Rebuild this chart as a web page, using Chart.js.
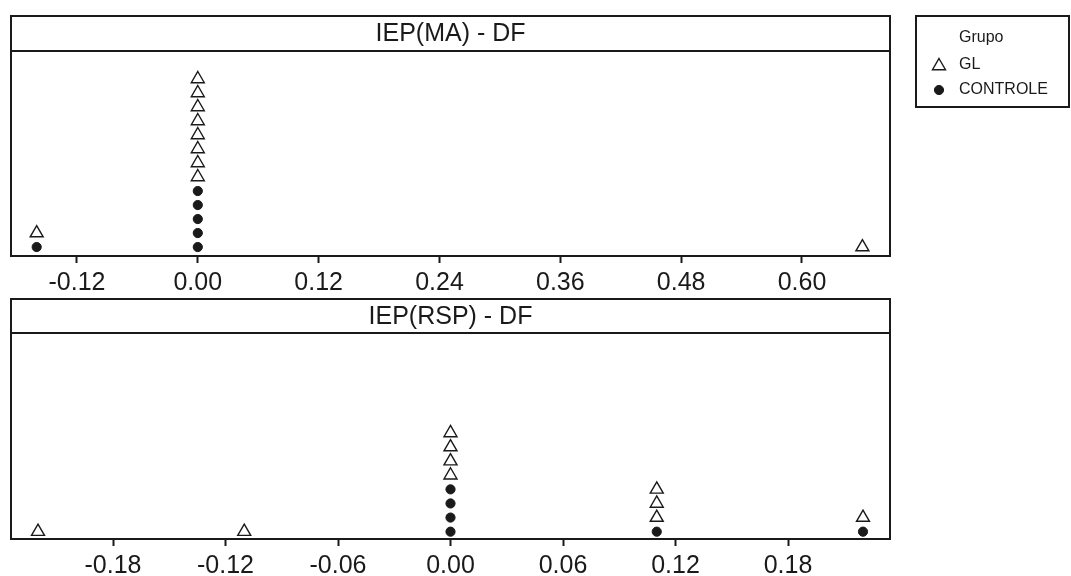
<!DOCTYPE html>
<html>
<head>
<meta charset="utf-8">
<script src="https://cdn.jsdelivr.net/npm/chart.js@4.4.1/dist/chart.umd.min.js"></script>
<style>
  body { margin: 0; background: #fff; }
  #wrap { position: relative; width: 1071px; height: 576px; overflow: hidden; }
  canvas { position: absolute; left: 0; }
</style>
</head>
<body>
<div id="wrap">
  <canvas id="topChart" width="1071" height="300" style="top:0"></canvas>
  <canvas id="bottomChart" width="1071" height="286" style="top:290px"></canvas>
</div>
<script>
const groups = ['GL', 'CONTROLE'];
const legendTitle = 'Grupo';

const maTitle = 'IEP(MA) - DF';
const maTicks = [-0.12, 0.00, 0.12, 0.24, 0.36, 0.48, 0.60];
const maGL = [-0.16, 0, 0, 0, 0, 0, 0, 0, 0, 0.66];
const maControle = [-0.16, 0, 0, 0, 0, 0];

const rspTitle = 'IEP(RSP) - DF';
const rspTicks = [-0.18, -0.12, -0.06, 0.00, 0.06, 0.12, 0.18];
const rspGL = [-0.22, -0.11, 0, 0, 0, 0, 0.11, 0.11, 0.11, 0.22];
const rspControle = [0, 0, 0, 0, 0.11, 0.22];

const FONT = '"Liberation Sans", Arial, sans-serif';
const INK = '#1a1a1a';

const glStyle = { pointStyle: 'triangle', radius: 7.5, borderWidth: 1.4, backgroundColor: '#fff', borderColor: INK };
const ctlStyle = { pointStyle: 'circle', radius: 4.6, borderWidth: 1, backgroundColor: INK, borderColor: INK };

// dotplot stacking: CONTROLE at the bottom, GL piled above it
function stackDots(controle, gl) {
  const count = {};
  const place = v => {
    const k = v.toFixed(3);
    count[k] = (count[k] || 0) + 1;
    return { x: v, y: count[k] };
  };
  const c = controle.map(place);
  const g = gl.map(place);
  return { gl: g, controle: c };
}

const panelFrame = {
  id: 'panelFrame',
  afterDraw(chart, args, opts) {
    const { ctx, chartArea: a } = chart;
    ctx.save();
    ctx.strokeStyle = INK;
    ctx.lineWidth = 2;
    ctx.strokeRect(a.left, a.top - opts.strip, a.right - a.left, a.bottom - a.top + opts.strip);
    ctx.beginPath();
    ctx.moveTo(a.left, a.top);
    ctx.lineTo(a.right, a.top);
    ctx.stroke();
    ctx.fillStyle = INK;
    ctx.font = '25px ' + FONT;
    ctx.textAlign = 'center';
    ctx.textBaseline = 'middle';
    ctx.fillText(opts.title, (a.left + a.right) / 2, a.top - opts.strip / 2 + 1);
    ctx.restore();
  }
};

const groupLegend = {
  id: 'groupLegend',
  afterDraw(chart, args, opts) {
    if (!opts.show) return;
    const ctx = chart.ctx;
    ctx.save();
    ctx.strokeStyle = INK;
    ctx.lineWidth = 2;
    ctx.strokeRect(916, 16, 153, 91);
    ctx.fillStyle = INK;
    ctx.font = '16px ' + FONT;
    ctx.textAlign = 'left';
    ctx.textBaseline = 'middle';
    ctx.fillText(legendTitle, 959, 38);
    const rows = [[groups[0], glStyle, 65], [groups[1], ctlStyle, 90]];
    rows.forEach(([label, st, y]) => {
      ctx.fillStyle = st.backgroundColor;
      ctx.strokeStyle = st.borderColor;
      ctx.lineWidth = st.borderWidth;
      Chart.helpers.drawPoint(ctx, { pointStyle: st.pointStyle, radius: st.radius, borderWidth: st.borderWidth, rotation: 0 }, 939, y + (st.pointStyle === 'triangle' ? 1 : 0));
      ctx.fillStyle = INK;
      ctx.fillText(label, 959, y);
    });
    ctx.restore();
  }
};

function makePanel(id, title, ticks, xMin, xMax, yMin, yMax, gl, controle, pad, axisH, strip, showLegend) {
  const pts = stackDots(controle, gl);
  return new Chart(document.getElementById(id), {
    type: 'scatter',
    data: {
      datasets: [
        Object.assign({ label: groups[1], data: pts.controle }, ctlStyle),
        Object.assign({ label: groups[0], data: pts.gl }, glStyle)
      ]
    },
    options: {
      responsive: false,
      animation: false,
      events: [],
      layout: { padding: pad },
      scales: {
        x: {
          type: 'linear',
          min: xMin,
          max: xMax,
          afterBuildTicks: s => { s.ticks = ticks.map(v => ({ value: v })); },
          afterFit: s => { s.height = axisH; },
          grid: { display: true, drawOnChartArea: false, drawTicks: true, tickLength: 7, tickWidth: 2, tickColor: INK },
          border: { display: false },
          ticks: {
            padding: 5,
            color: INK,
            autoSkip: false,
            maxRotation: 0,
            font: { family: FONT, size: 25 },
            callback: v => v.toFixed(2)
          }
        },
        y: { display: false, min: yMin, max: yMax }
      },
      plugins: {
        legend: { display: false },
        tooltip: { enabled: false },
        panelFrame: { title: title, strip: strip },
        groupLegend: { show: showLegend }
      }
    },
    plugins: [panelFrame, groupLegend]
  });
}

makePanel('topChart', maTitle, maTicks, -0.1855, 0.6874, 0.36, 15.0, maGL, maControle,
  { left: 11, right: 181, top: 51, bottom: 0 }, 44, 35, true);

makePanel('bottomChart', rspTitle, rspTicks, -0.2344, 0.2344, 0.48, 15.09, rspGL, rspControle,
  { left: 11, right: 181, top: 43, bottom: 0 }, 37, 34, false);
</script>
</body>
</html>
